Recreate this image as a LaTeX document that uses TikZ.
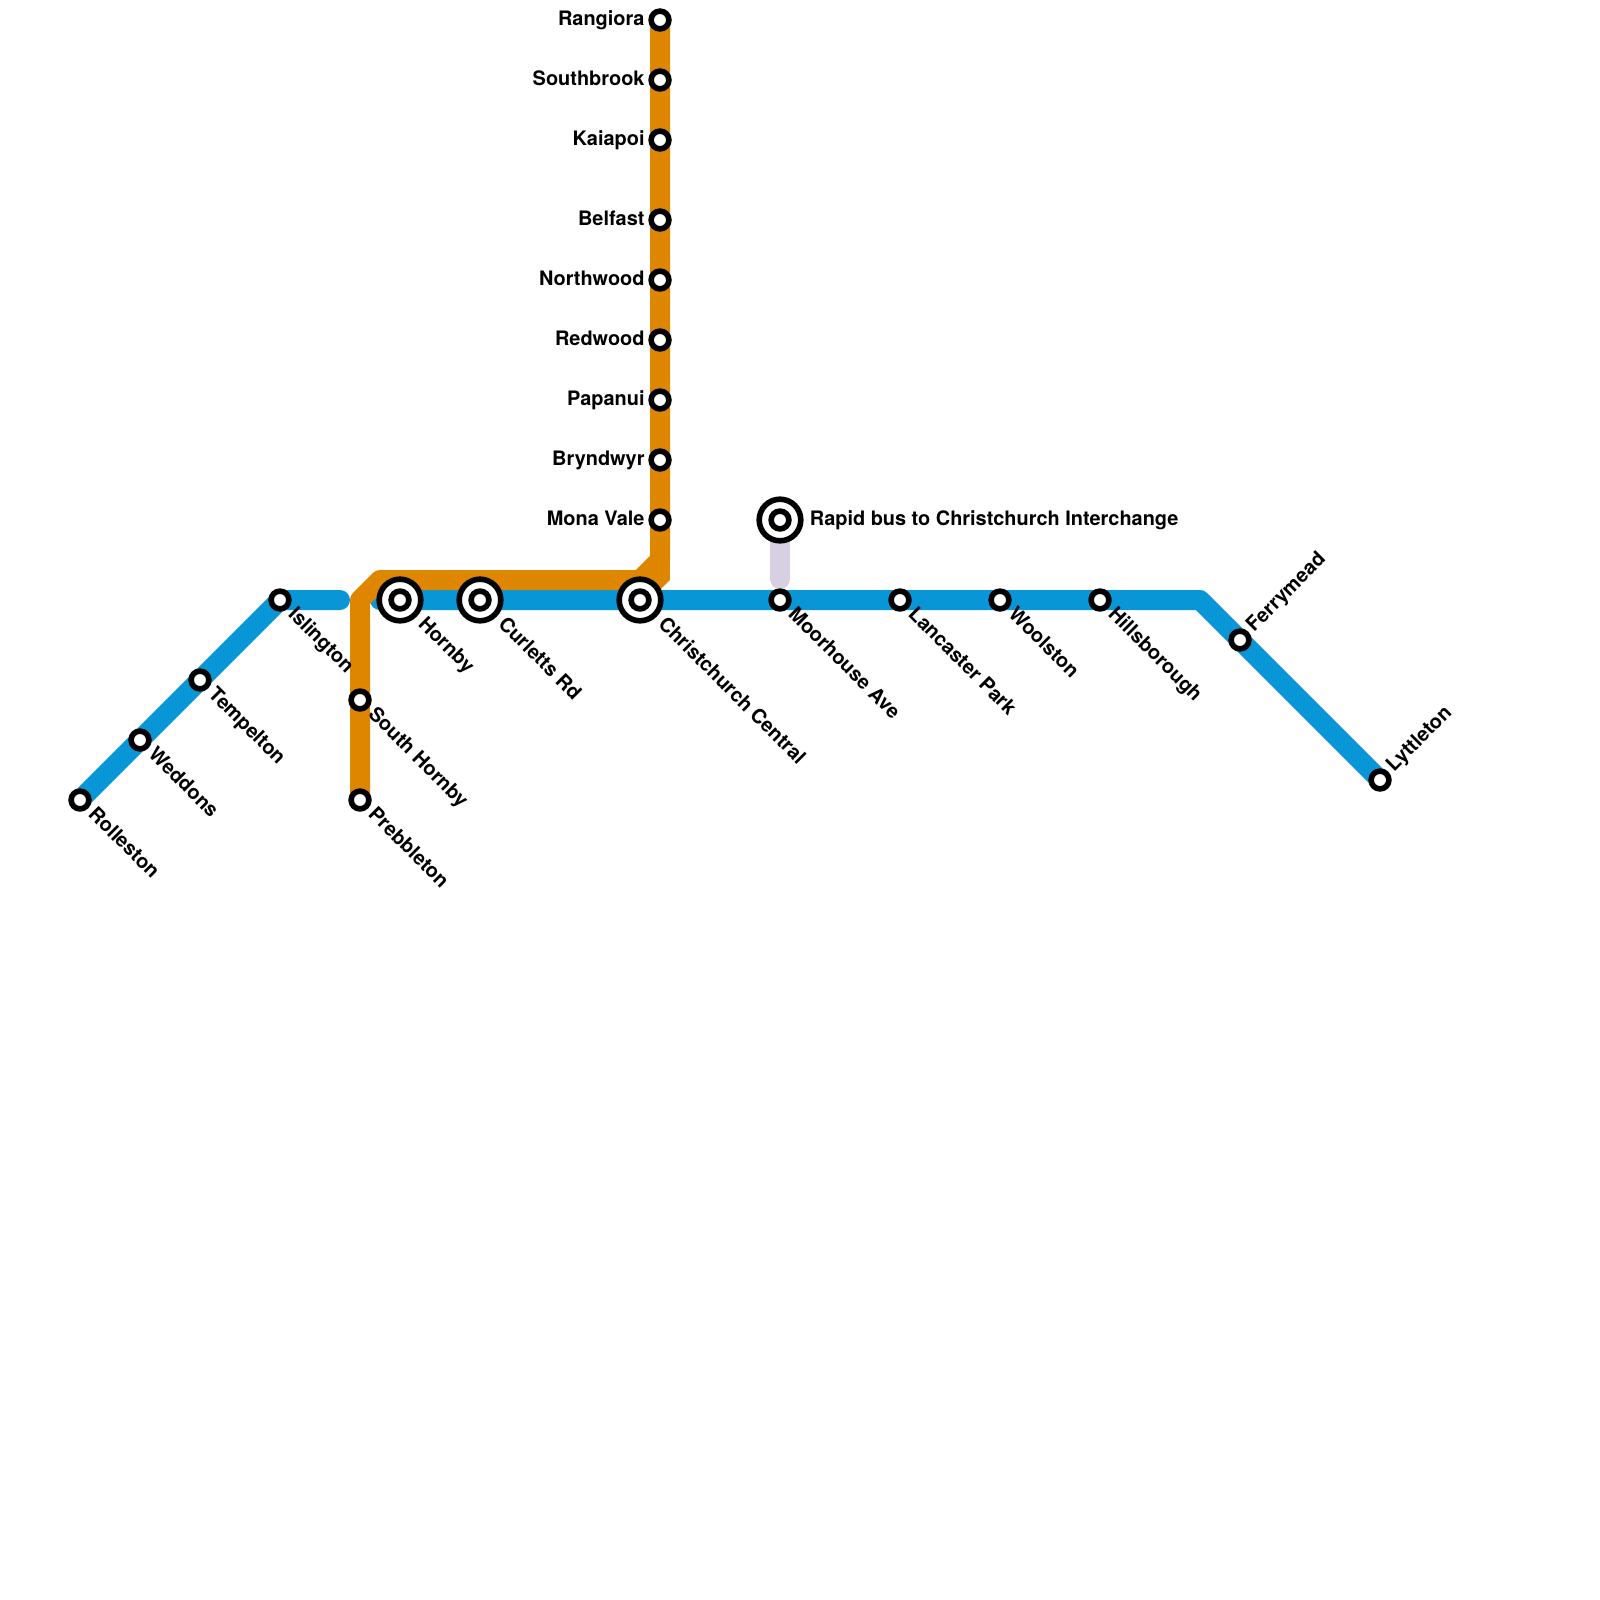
\documentclass[tikz,border=0pt]{standalone}
\usepackage{fontspec}
\setmainfont{TeX Gyre Heros}
\usetikzlibrary{backgrounds}
\definecolor{bluecol}{HTML}{0896D7}
\definecolor{orangecol}{HTML}{DF8600}
\definecolor{lilaccol}{HTML}{D9CFE2}
\tikzset{
	routeline/.style={line width=0.5cm, line cap=round, line join=round},
	stopnode/.style={circle, draw=black, fill=white, line width=0.14cm, minimum size=0.445cm, inner sep=0pt},
	hubnode/.style={circle, draw=black, fill=white, line width=0.14cm, minimum size=1.04cm, inner sep=0pt},
	stoptext/.style={inner sep=0pt, font=\fontsize{14.17}{17}\selectfont\bfseries},
	textdown/.style={stoptext, anchor=base west, xshift=0.18cm, yshift=-0.38cm, rotate=-45},
	texthub/.style={stoptext, anchor=base west, xshift=0.43cm, yshift=-0.62cm, rotate=-45},
	textup/.style={stoptext, anchor=base west, xshift=0.35cm, yshift=0.18cm, rotate=45},
	textleft/.style={stoptext, anchor=base east, xshift=-0.38cm, yshift=-0.125cm},
	textright/.style={stoptext, anchor=base west, xshift=0.74cm, yshift=-0.125cm},
}

\begin{document}
\begin{tikzpicture}[x=0.5cm, y=-0.5cm]
			\useasboundingbox (0, 0) rectangle (80, 80);
			
			%%%%% BLUE STOPS %%%%%
			\node[stopnode] (rolleston) at (4, 40) {};
			\node[stopnode] (weddons) at (7, 37) {};
			\node[stopnode] (tempelton) at (10, 34) {};
			\node[stopnode] (islington) at (14, 30) {};
			\node[hubnode] (hornby) at (20, 30) {};
			\node[stopnode] (hornbystop) at (hornby) {};
			\node[hubnode] (curletts) at (24, 30) {};
			\node[stopnode] (curlettsstop) at (curletts) {};
			\node[hubnode] (central) at (32, 30) {};
			\node[stopnode] (centralstop) at (central) {};
			\node[stopnode] (moorhouse) at (39, 30) {};
			\node[stopnode] (lancaster) at (45, 30) {};
			\node[stopnode] (woolston) at (50, 30) {};
			\node[stopnode] (hillsborough) at (55, 30) {};
			\node[stopnode] (ferrymead) at (62, 32) {};
			\node[stopnode] (lyttleton) at (69, 39) {};
			
			%%%%% ORANGE STOPS %%%%%
			\node[stopnode] (prebbleton) at (18, 40) {};
			\node[stopnode] (southhornby) at (18, 35) {};
			\node[stopnode] (monavale) at (33, 26) {};
			\node[stopnode] (bryndwyr) at (33, 23) {};
			\node[stopnode] (papanui) at (33, 20) {};
			\node[stopnode] (redwood) at (33, 17) {};
			\node[stopnode] (northwood) at (33, 14) {};
			\node[stopnode] (belfast) at (33, 11) {};
			\node[stopnode] (kaiapoi) at (33, 7) {};
			\node[stopnode] (southbrook) at (33, 4) {};
			\node[stopnode] (rangiora) at (33, 1) {};
			
			%%%%% BUS %%%%%
			\node[hubnode] (rapidbus) at (39, 26) {};
			\node[stopnode] (rapidbusstop) at (rapidbus) {};
			
			%%%%% BENDS %%%%%
			\coordinate (blueend) at (17, 30);
			\coordinate (bluestart) at (19, 30);
			\coordinate (bluebend) at (60, 30);
			\coordinate (orangea) at (18, 30);
			\coordinate (orangeb) at (19, 29);
			\coordinate (orangec) at (32, 29);
			\coordinate (oranged) at (33, 28);
			\coordinate (orangee) at (33, 29);
			\coordinate (busend) at (39, 28.95);
			
			%%%%% LINES %%%%%
			\begin{scope}[on background layer]
				\draw[routeline, color=bluecol] (rolleston.center) -- (weddons.center) -- (tempelton.center) -- (islington.center) -- (blueend);
				\draw[routeline, color=bluecol] (bluestart) -- (hornby.center) -- (curletts.center) -- (central.center) -- (moorhouse.center) -- (lancaster.center) -- (woolston.center) -- (hillsborough.center) -- (bluebend) -- (ferrymead.center) -- (lyttleton.center);
				\draw[routeline, color=lilaccol] (rapidbus.center) -- (busend);
				\draw[routeline, color=orangecol] (prebbleton.center) -- (southhornby.center) -- (orangea) -- (orangeb) -- (orangec) -- (oranged) -- (monavale.center) -- (bryndwyr.center) -- (papanui.center) -- (redwood.center) -- (northwood.center) -- (belfast.center) -- (kaiapoi.center) -- (southbrook.center) -- (rangiora.center);
				\draw[routeline, color=orangecol, line join=bevel, line cap=butt] (orangec) -- (orangee) -- (oranged);
			\end{scope}
			
			%%%%% NAMES %%%%%
			\node[textdown] (rollestonname) at (rolleston) {Rolleston};
			\node[textdown] (weddonsname) at (weddons) {Weddons};
			\node[textdown] (tempeltonname) at (tempelton) {Tempelton};
			\node[textdown] (islingtonname) at (islington) {Islington};
			\node[texthub] (hornbyname) at (hornby) {Hornby};
			\node[texthub] (curlettsname) at (curletts) {Curletts Rd};
			\node[texthub] (centralname) at (central) {Christchurch Central};
			\node[textdown] (moorhousename) at (moorhouse) {Moorhouse Ave};
			\node[textdown] (lancastername) at (lancaster) {Lancaster Park};
			\node[textdown] (woolstonname) at (woolston) {Woolston};
			\node[textdown] (hillsboroughname) at (hillsborough) {Hillsborough};
			\node[textup] (ferrymeadname) at (ferrymead) {Ferrymead};
			\node[textup] (lyttletonname) at (lyttleton) {Lyttleton};
			\node[textdown] (prebbletonname) at (prebbleton) {Prebbleton};
			\node[textdown] (southhornbyname) at (southhornby) {South Hornby};
			\node[textleft] (monavalename) at (monavale) {Mona Vale};
			\node[textleft] (bryndwyrname) at (bryndwyr) {Bryndwyr};
			\node[textleft] (papanuiname) at (papanui) {Papanui};
			\node[textleft] (redwoodname) at (redwood) {Redwood};
			\node[textleft] (northwoodname) at (northwood) {Northwood};
			\node[textleft] (belfastname) at (belfast) {Belfast};
			\node[textleft] (kaiapoiname) at (kaiapoi) {Kaiapoi};
			\node[textleft] (southbrookname) at (southbrook) {Southbrook};
			\node[textleft] (rangioraname) at (rangiora) {Rangiora};
			\node[textright] (rapidbusname) at (rapidbus) {Rapid bus to Christchurch Interchange};
		\end{tikzpicture}
\end{document}
